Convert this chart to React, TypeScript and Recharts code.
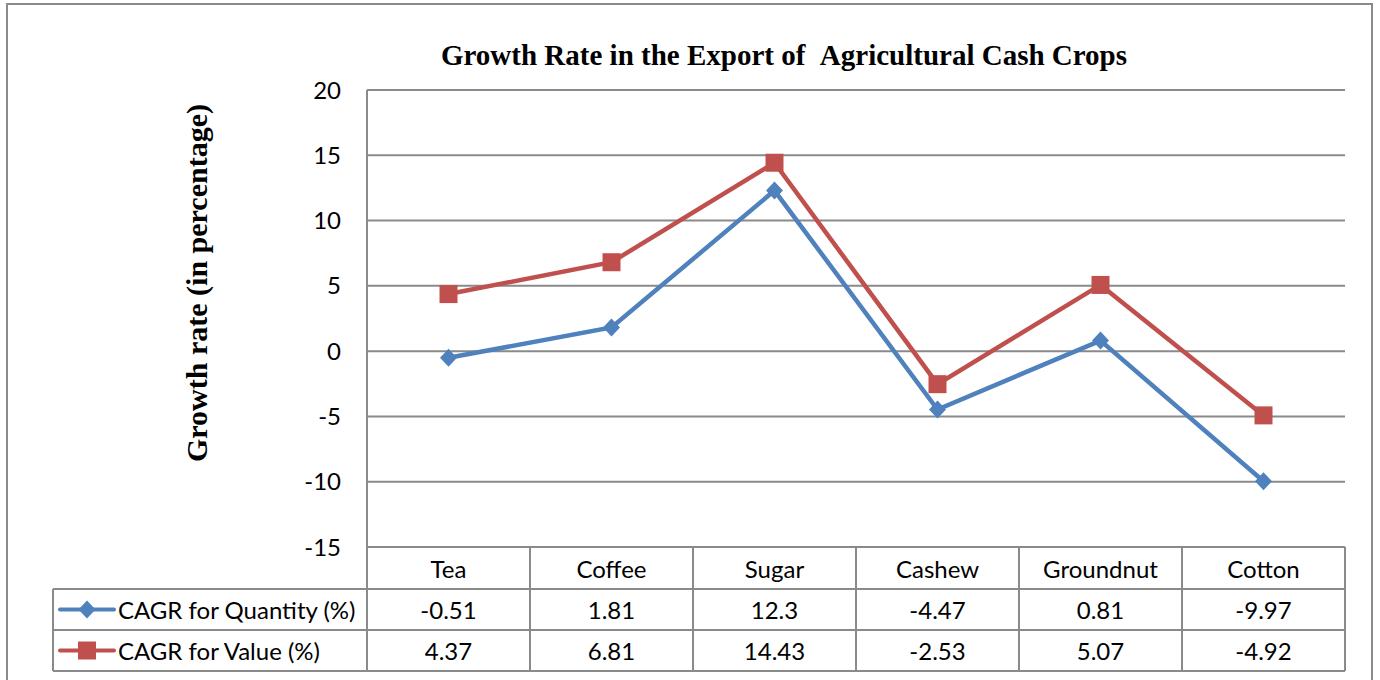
import { LineChart, Line, XAxis, YAxis, CartesianGrid } from 'recharts'

const crops = ['Tea', 'Coffee', 'Sugar', 'Cashew', 'Groundnut', 'Cotton']
const quantityGrowth = [-0.51, 1.81, 12.3, -4.47, 0.81, -9.97]
const valueGrowth = [4.37, 6.81, 14.43, -2.53, 5.07, -4.92]
const yTicks = [-15, -10, -5, 0, 5, 10, 15, 20]
const quantityName = 'CAGR for Quantity (%)'
const valueName = 'CAGR for Value (%)'

const data = crops.map((crop, i) => ({ crop, quantity: quantityGrowth[i], value: valueGrowth[i] }))

// layout, in page pixels
const W = 1380
const H = 680
const plotLeft = 367
const plotRight = 1345
const plotTop = 90
const plotBottom = 547
const rowBottoms = [589, 630, 671]
const legendLeft = 53
const BLUE = '#4F81BD'
const RED = '#C0504D'
const GRID = '#8a8a8a'
const sans = 'Lato, "Noto Sans", sans-serif'
const serif = '"Liberation Serif", "DejaVu Serif", serif'
const FS = 24

const Diamond = (p: any) => {
  const { cx, cy, index } = p
  if (cx == null || cy == null) return null
  return <path key={'d' + index} d={`M${cx} ${cy - 9}L${cx + 8.5} ${cy}L${cx} ${cy + 9}L${cx - 8.5} ${cy}Z`} fill={BLUE} />
}

const Square = (p: any) => {
  const { cx, cy, index } = p
  if (cx == null || cy == null) return null
  return <rect key={'s' + index} x={cx - 9} y={cy - 9} width={18} height={18} fill={RED} />
}

function DataTable() {
  const colW = (plotRight - plotLeft) / crops.length
  const rowMid = (i: number) => (i === 0 ? (plotBottom + rowBottoms[0]) / 2 : (rowBottoms[i - 1] + rowBottoms[i]) / 2)
  const rows = [
    { name: quantityName, values: quantityGrowth, color: BLUE, marker: 'diamond' },
    { name: valueName, values: valueGrowth, color: RED, marker: 'square' },
  ]
  return (
    <svg width={W} height={H} style={{ position: 'absolute', left: 0, top: 0, pointerEvents: 'none' }}>
      {crops.map((_, i) => (
        <line key={'v' + i} x1={plotLeft + colW * (i + 1)} x2={plotLeft + colW * (i + 1)} y1={plotBottom} y2={rowBottoms[2]} stroke={GRID} strokeWidth={2} />
      ))}
      <line x1={plotLeft} x2={plotLeft} y1={plotBottom} y2={rowBottoms[2]} stroke={GRID} strokeWidth={2} />
      <line x1={legendLeft} x2={legendLeft} y1={rowBottoms[0]} y2={rowBottoms[2]} stroke={GRID} strokeWidth={2} />
      {rowBottoms.map((y) => (
        <line key={'h' + y} x1={legendLeft} x2={plotRight} y1={y} y2={y} stroke={GRID} strokeWidth={2} />
      ))}
      {crops.map((c, i) => (
        <text key={c} x={plotLeft + colW * (i + 0.5)} y={rowMid(0)} textAnchor="middle" dominantBaseline="central" fontFamily={sans} fontSize={FS} fill="#000">
          {c}
        </text>
      ))}
      {rows.map((r, ri) => {
        const y = rowMid(ri + 1)
        return (
          <g key={r.name}>
            <line x1={60} x2={114} y1={y} y2={y} stroke={r.color} strokeWidth={4} strokeLinecap="round" />
            {r.marker === 'diamond' ? (
              <path d={`M87 ${y - 9}L95.5 ${y}L87 ${y + 9}L78.5 ${y}Z`} fill={r.color} />
            ) : (
              <rect x={78} y={y - 9} width={18} height={18} fill={r.color} />
            )}
            <text x={118} y={y} dominantBaseline="central" fontFamily={sans} fontSize={FS} fill="#000">
              {r.name}
            </text>
            {r.values.map((v, i) => (
              <text key={i} x={plotLeft + colW * (i + 0.5)} y={y} textAnchor="middle" dominantBaseline="central" fontFamily={sans} fontSize={FS} fill="#000">
                {v}
              </text>
            ))}
          </g>
        )
      })}
    </svg>
  )
}

export default function App() {
  return (
    <div style={{ position: 'absolute', left: 0, top: 0, width: W, height: H, background: '#fff', overflow: 'hidden' }}>
      <div style={{ position: 'absolute', left: 6, top: 3, width: 1363, height: 720, border: '2px solid #8a8a8a' }} />
      <div style={{ position: 'absolute', left: 0, width: 1568, top: 36, textAlign: 'center', fontFamily: serif, fontWeight: 'bold', fontSize: 29, lineHeight: '38px' }}>
        Growth Rate in the Export of &nbsp;Agricultural Cash Crops
      </div>
      <div
        style={{
          position: 'absolute',
          left: 197,
          top: 283,
          transform: 'translate(-50%, -50%) rotate(-90deg)',
          whiteSpace: 'nowrap',
          fontFamily: serif,
          fontWeight: 'bold',
          fontSize: 30,
        }}
      >
        Growth rate (in percentage)
      </div>
      <LineChart
        width={W}
        height={H}
        data={data}
        margin={{ top: plotTop, left: plotLeft - 80, right: W - plotRight, bottom: H - plotBottom }}
        style={{ position: 'absolute', left: 0, top: 0 }}
      >
        <CartesianGrid vertical={false} stroke={GRID} strokeWidth={2} />
        <XAxis dataKey="crop" scale="band" hide />
        <YAxis
          width={80}
          domain={[-15, 20]}
          ticks={yTicks}
          interval={0}
          tickLine={false}
          axisLine={{ stroke: GRID, strokeWidth: 2 }}
          tickMargin={20}
          tick={{ fill: '#000', fontSize: FS, fontFamily: sans }}
        />
        <Line dataKey="quantity" name={quantityName} stroke={BLUE} strokeWidth={4.5} dot={Diamond} activeDot={false} isAnimationActive={false} />
        <Line dataKey="value" name={valueName} stroke={RED} strokeWidth={4.5} dot={Square} activeDot={false} isAnimationActive={false} />
      </LineChart>
      <DataTable />
    </div>
  )
}
